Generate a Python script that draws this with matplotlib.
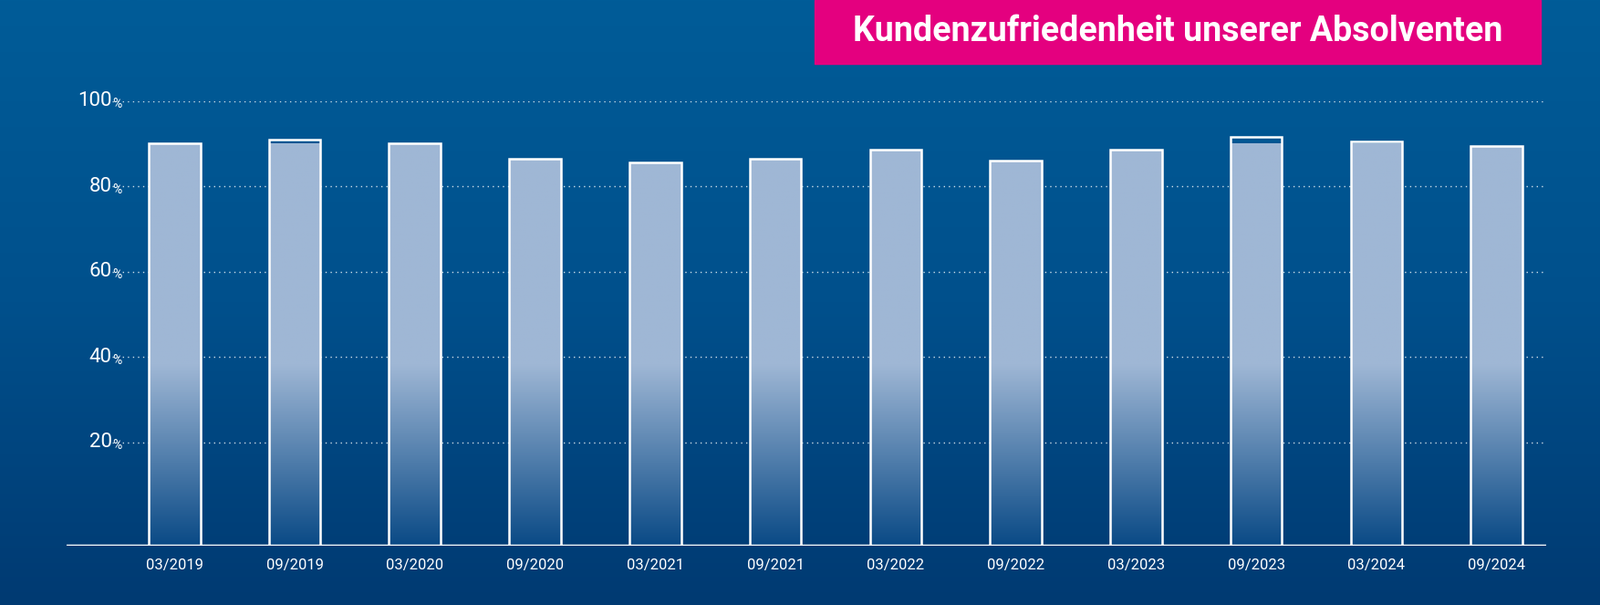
import numpy as np
import matplotlib
matplotlib.use("Agg")
import matplotlib.pyplot as plt
from matplotlib.colors import LinearSegmentedColormap
from matplotlib.patches import Rectangle

categories = ["03/2019","09/2019","03/2020","09/2020","03/2021","09/2021",
              "03/2022","09/2022","03/2023","09/2023","03/2024","09/2024"]
values = [90, 91, 90, 86.5, 85.5, 86.5, 88.5, 86, 88.5, 91.5, 90.5, 89.5]
yticks = [20, 40, 60, 80, 100]
title = "Kundenzufriedenheit unserer Absolventen"

W, H = 1568, 593
fig = plt.figure(figsize=(17.54, 6.63), dpi=100)

# background gradient
bg = fig.add_axes([0, 0, 1, 1], zorder=0)
bgcm = LinearSegmentedColormap.from_list("bg", ["#005c98", "#00508c", "#003a72"])
bg.imshow(np.linspace(0, 1, 256).reshape(-1, 1), aspect="auto", cmap=bgcm, extent=[0, 1, 0, 1])
bg.set_axis_off()
# title box
bg.add_patch(Rectangle((798 / W, 1 - 63 / H), (1510 - 798) / W, 63 / H, color="#e4007f", transform=bg.transAxes))
bg.text((798 + 1510) / 2 / W, 1 - 31 / H, title, ha="center", va="center", color="white",
        fontsize=27, fontweight="bold", family="Roboto", transform=bg.transAxes)
bg.set_xlim(0, 1); bg.set_ylim(0, 1)

ax = fig.add_axes([65 / W, 1 - 535 / H, (1515 - 65) / W, (535 - 99) / H], zorder=1)
ax.patch.set_alpha(0)
ax.set_xlim(-0.9, 11.41)
ax.set_ylim(-4.3, 100)

for t in yticks:
    ax.plot([(110 - 65) / (1515 - 65) * 12.31 - 0.9, 11.41], [t, t], ls=(0, (1, 3)), color="white", lw=1, alpha=0.8)
    ax.text(-0.52, t, str(t), ha="right", va="center", color="white", fontsize=16, family="Roboto")
    ax.text(-0.515, t - 0.8, "%", ha="left", va="center", color="white", fontsize=10, family="Roboto")

barcm = LinearSegmentedColormap.from_list("bar", [(0, "#0a4a86"), (0.45, "#9fb7d5"), (1, "#9fb7d5")])
grad = np.linspace(1, 0, 256).reshape(-1, 1)
x = np.arange(len(categories))
bw = 0.43
for xi, v in zip(x, values):
    im = ax.imshow(grad, aspect="auto", cmap=barcm, vmin=0, vmax=1,
                   extent=[xi - bw / 2, xi + bw / 2, -4.3, 90], zorder=2)
    r = Rectangle((xi - bw / 2, -4.3), bw, v + 4.3, fill=False, ec="white", lw=1.8, zorder=3)
    ax.add_patch(r)
    clip = Rectangle((xi - bw / 2, -4.3), bw, v + 4.3, transform=ax.transData)
    im.set_clip_path(clip)

ax.axhline(-4.3, color="white", lw=2.5, zorder=4)
for s in ax.spines.values():
    s.set_visible(False)
ax.set_yticks([])
ax.set_xticks(x)
ax.set_xticklabels(categories, color="white", fontsize=12, family="Roboto")
ax.tick_params(axis="x", length=0, pad=10)

fig.savefig("out.png", dpi=100)
